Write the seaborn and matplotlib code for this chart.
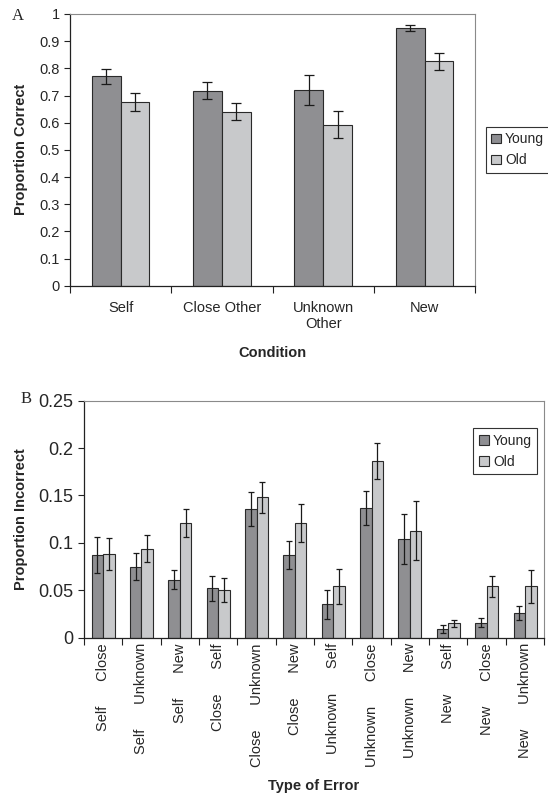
import matplotlib
matplotlib.use("Agg")
import matplotlib.pyplot as plt
from matplotlib.patches import Patch
from matplotlib.ticker import FixedLocator, FuncFormatter
import seaborn as sns
import pandas as pd

# panel A: proportion correct by condition
conditions = ["Self", "Close Other", "Unknown\nOther", "New"]
young_correct = [0.770, 0.718, 0.720, 0.948]
young_correct_err = [0.027, 0.032, 0.054, 0.012]
old_correct = [0.676, 0.641, 0.593, 0.826]
old_correct_err = [0.032, 0.032, 0.049, 0.032]

# panel B: proportion incorrect by type of error
error_source = ["Self", "Self", "Self", "Close", "Close", "Close",
                "Unknown", "Unknown", "Unknown", "New", "New", "New"]
error_response = ["Close", "Unknown", "New", "Self", "Unknown", "New",
                  "Self", "Close", "New", "Self", "Close", "Unknown"]
young_incorrect = [0.087, 0.075, 0.061, 0.052, 0.136, 0.087,
                   0.035, 0.137, 0.104, 0.009, 0.016, 0.026]
young_incorrect_err = [0.019, 0.014, 0.010, 0.013, 0.018, 0.015,
                       0.015, 0.018, 0.026, 0.004, 0.0045, 0.007]
old_incorrect = [0.088, 0.094, 0.121, 0.050, 0.148, 0.121,
                 0.054, 0.186, 0.113, 0.015, 0.054, 0.054]
old_incorrect_err = [0.017, 0.014, 0.015, 0.0125, 0.016, 0.020,
                     0.018, 0.019, 0.031, 0.0035, 0.011, 0.017]

groups = ["Young", "Old"]
colors = {"Young": "#8e8e92", "Old": "#c8c9cb"}
EDGE = "#2a2a2a"

sns.set_theme(style="white")
plt.rcParams["font.family"] = ["Liberation Sans", "DejaVu Sans"]


def long_table(cats, young, old):
    rows = []
    for c, v in zip(cats, young):
        rows.append((c, "Young", v))
    for c, v in zip(cats, old):
        rows.append((c, "Old", v))
    return pd.DataFrame(rows, columns=["cat", "group", "value"])


def draw_panel(ax, cats, young, old, yerrs, width, capsize):
    df = long_table(cats, young, old)
    sns.barplot(data=df, x="cat", y="value", hue="group", order=cats,
                hue_order=groups, palette=colors, width=width,
                edgecolor=EDGE, linewidth=0.8, errorbar=None, ax=ax)
    for cont, errs in zip(ax.containers, yerrs):
        xs = [p.get_x() + p.get_width() / 2 for p in cont]
        ys = [p.get_height() for p in cont]
        ax.errorbar(xs, ys, yerr=errs, fmt="none", ecolor="#1a1a1a",
                    elinewidth=0.9, capsize=capsize, capthick=0.9)
    if ax.get_legend() is not None:
        ax.get_legend().remove()
    ax.set_xlim(-0.5, len(cats) - 0.5)
    ax.xaxis.set_minor_locator(FixedLocator([i - 0.5 for i in range(len(cats) + 1)]))
    ax.tick_params(axis="x", which="major", length=0)
    ax.tick_params(axis="x", which="minor", length=5, width=0.8,
                   direction="out", color="#222", bottom=True)
    ax.tick_params(axis="y", length=4, width=0.8, direction="out",
                   color="#222", left=True)
    for s in ["left", "bottom"]:
        ax.spines[s].set_color("#222")
        ax.spines[s].set_linewidth(0.9)
    for s in ["top", "right"]:
        ax.spines[s].set_color("#8a8a8a")
        ax.spines[s].set_linewidth(0.8)
    ax.yaxis.set_major_formatter(FuncFormatter(lambda v, p: f"{v:g}"))


def legend_handles():
    return [Patch(facecolor=colors[g], edgecolor=EDGE, linewidth=0.8, label=g)
            for g in groups]


fig = plt.figure(figsize=(5.48, 7.95), dpi=100)

# ---- panel A
axA = fig.add_axes([0.1276, 0.6406, 0.7397, 0.3418])
draw_panel(axA, conditions, young_correct, old_correct,
           [young_correct_err, old_correct_err], 0.57, 3.5)
axA.set_ylim(0, 1)
axA.set_yticks([i / 10 for i in range(11)])
axA.tick_params(axis="y", labelsize=10.5)
axA.tick_params(axis="x", which="major", labelsize=10.5, pad=11)
axA.set_xlabel("Condition", fontsize=10.5, fontweight="bold", labelpad=11)
axA.set_ylabel("Proportion Correct", fontsize=10.5, fontweight="bold")
axA.yaxis.set_label_coords(-0.104, 0.5)
fig.legend(handles=legend_handles(), loc="upper left",
           bbox_to_anchor=(0.886, 0.8406), bbox_transform=fig.transFigure,
           fontsize=10, frameon=True, fancybox=False, edgecolor="#333",
           framealpha=1, handlelength=0.7, handleheight=0.7,
           handletextpad=0.3, borderpad=0.4, labelspacing=0.5,
           borderaxespad=0).get_frame().set_linewidth(0.8)
fig.text(0.022, 0.975, "A", family=["Liberation Serif", "DejaVu Serif"],
         fontsize=12, va="baseline")

# ---- panel B
error_labels = [f"{a}      {b}" for a, b in zip(error_source, error_response)]
axB = fig.add_axes([0.1531, 0.1979, 0.84, 0.2981])
draw_panel(axB, error_labels, young_incorrect, old_incorrect,
           [young_incorrect_err, old_incorrect_err], 0.6, 2.5)
axB.set_ylim(0, 0.25)
axB.set_yticks([0, 0.05, 0.1, 0.15, 0.2, 0.25])
axB.tick_params(axis="y", labelsize=13)
axB.tick_params(axis="x", which="major", labelsize=10.5, pad=4, rotation=90)
axB.set_xlabel("Type of Error", fontsize=10.5, fontweight="bold", labelpad=9)
axB.set_ylabel("Proportion Incorrect", fontsize=10.5, fontweight="bold")
axB.yaxis.set_label_coords(-0.1215, 0.5)
legB = axB.legend(handles=legend_handles(), loc="upper left",
                  bbox_to_anchor=(0.864, 0.4616), bbox_transform=fig.transFigure,
                  fontsize=10, frameon=True, fancybox=False, edgecolor="#333",
                  framealpha=1, handlelength=0.7, handleheight=0.7,
                  handletextpad=0.3, borderpad=0.4, labelspacing=0.5,
                  borderaxespad=0)
legB.get_frame().set_linewidth(0.8)
fig.text(0.038, 0.493, "B", family=["Liberation Serif", "DejaVu Serif"],
         fontsize=12, va="baseline")

fig.savefig("out.png", dpi=100)
